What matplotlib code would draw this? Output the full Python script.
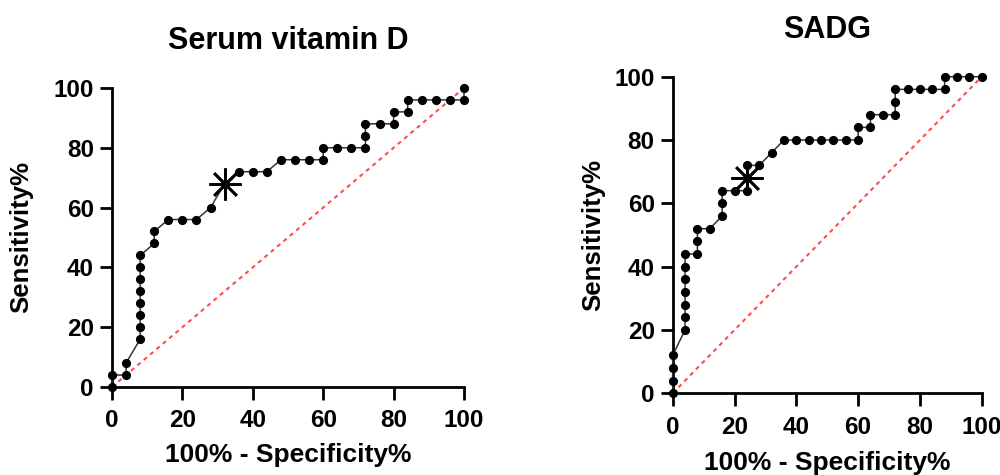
import matplotlib
matplotlib.use("Agg")
import matplotlib.pyplot as plt

plt.rcParams['font.family'] = ['Liberation Sans', 'DejaVu Sans']
plt.rcParams['font.weight'] = 'bold'

# Serum vitamin D ROC
vd_x = [0, 0, 4, 4, 8, 8, 8, 8, 8, 8, 8, 8, 12, 12, 16, 20, 24, 28, 32, 36, 40, 44,
        48, 52, 56, 60, 60, 64, 68, 72, 72, 72, 76, 80, 80, 84, 84, 88, 92, 96, 100, 100]
vd_y = [0, 4, 4, 8, 16, 20, 24, 28, 32, 36, 40, 44, 48, 52, 56, 56, 56, 60, 68, 72, 72, 72,
        76, 76, 76, 76, 80, 80, 80, 80, 84, 88, 88, 88, 92, 92, 96, 96, 96, 96, 96, 100]
vd_cut = (32, 68)

# SADG ROC
sa_x = [0, 0, 0, 0, 4, 4, 4, 4, 4, 4, 4, 8, 8, 8, 12, 16, 16, 16, 20, 24, 24, 24, 28, 32,
        36, 40, 44, 48, 52, 56, 60, 60, 64, 64, 68, 72, 72, 72, 76, 80, 84, 88, 88, 92, 96, 100]
sa_y = [0, 4, 8, 12, 20, 24, 28, 32, 36, 40, 44, 44, 48, 52, 52, 56, 60, 64, 64, 64, 68, 72, 72, 76,
        80, 80, 80, 80, 80, 80, 80, 84, 84, 88, 88, 88, 92, 96, 96, 96, 96, 96, 100, 100, 100, 100]
sa_cut = (24, 68)

titles = ["Serum vitamin D", "SADG"]
ticks = [0, 20, 40, 60, 80, 100]

fig = plt.figure(figsize=(10, 4.75), dpi=100)
ax1 = fig.add_axes([0.112, 0.1853, 0.352, 0.6295])
ax2 = fig.add_axes([0.6727, 0.172, 0.309, 0.6665])

panels = [(ax1, vd_x, vd_y, vd_cut, titles[0], (-0.224, -0.187)),
          (ax2, sa_x, sa_y, sa_cut, titles[1], (-0.219, -0.182))]

for ax, xs, ys, cut, title, (ylx, xly) in panels:
    ax.plot([0, 100], [0, 100], color='#ff4d4d', lw=1.5, ls=(0, (2, 2)), zorder=1, clip_on=False)
    ax.plot(xs, ys, color='#333333', lw=1.1, marker='o', ms=5.6, mfc='black', mec='black',
            zorder=3, clip_on=False)
    ax.plot([cut[0]], [cut[1]], marker=(8, 2, 0), ms=23, mew=1.9, color='black',
            zorder=4, clip_on=False, ls='none')
    ax.set_xlim(0, 100)
    ax.set_ylim(0, 100)
    ax.set_xticks(ticks)
    ax.set_yticks(ticks)
    for s in ['top', 'right']:
        ax.spines[s].set_visible(False)
    for s in ['left', 'bottom']:
        ax.spines[s].set_linewidth(2.0)
    ax.tick_params(axis='both', width=2.0, length=9, labelsize=17.5, colors='black')
    ax.tick_params(axis='x', pad=7)
    ax.tick_params(axis='y', pad=4)
    for lab in ax.get_xticklabels() + ax.get_yticklabels():
        lab.set_fontweight('bold')
    ax.set_title(title, fontsize=22, fontweight='bold', pad=28)
    ax.set_xlabel("100% - Specificity%", fontsize=19, fontweight='bold')
    ax.set_ylabel("Sensitivity%", fontsize=18.5, fontweight='bold')
    ax.yaxis.set_label_coords(ylx, 0.5)
    ax.xaxis.set_label_coords(0.5, xly)

fig.savefig("out.png", dpi=100)
